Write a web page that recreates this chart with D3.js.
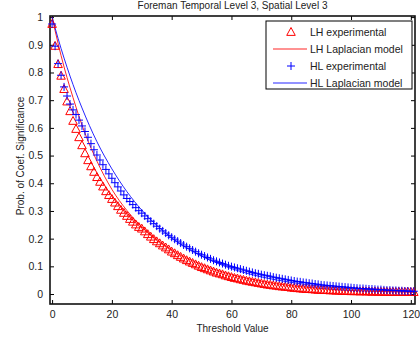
<!DOCTYPE html>
<html>
<head>
<meta charset="utf-8">
<script src="https://cdn.jsdelivr.net/npm/d3@7"></script>
<style>
  html, body { margin: 0; padding: 0; background: #fff; }
  svg { display: block; font-family: "Liberation Sans", Arial, sans-serif; }
</style>
</head>
<body>
<svg id="chart" width="420" height="343"></svg>
<script>
// Threshold values 0..121 for the experimental curves
const thresholds = d3.range(0, 122);

// LH subband, measured probability of coefficient significance
const lhExperimental = [
  0.975, 0.896, 0.830, 0.788, 0.740, 0.695, 0.660, 0.625, 0.596, 0.566,
  0.537, 0.508, 0.483, 0.461, 0.441, 0.422, 0.405, 0.388, 0.371, 0.357,
  0.343, 0.330, 0.317, 0.304, 0.293, 0.282, 0.271, 0.261, 0.251, 0.242,
  0.236, 0.226, 0.216, 0.207, 0.198, 0.190, 0.183, 0.175, 0.168, 0.161,
  0.153, 0.147, 0.140, 0.134, 0.128, 0.122, 0.117, 0.112, 0.107, 0.102,
  0.097, 0.093, 0.089, 0.085, 0.081, 0.077, 0.074, 0.071, 0.067, 0.064,
  0.061, 0.058, 0.056, 0.053, 0.051, 0.048, 0.046, 0.044, 0.042, 0.040,
  0.038, 0.036, 0.034, 0.033, 0.031, 0.030, 0.028, 0.027, 0.026, 0.025,
  0.023, 0.022, 0.021, 0.020, 0.019, 0.018, 0.018, 0.017, 0.016, 0.015,
  0.015, 0.014, 0.014, 0.013, 0.013, 0.012, 0.012, 0.011, 0.011, 0.011,
  0.010, 0.010, 0.010, 0.009, 0.010, 0.009, 0.009, 0.008, 0.009, 0.008,
  0.008, 0.008, 0.008, 0.007, 0.008, 0.007, 0.008, 0.007, 0.007, 0.008,
  0.007, 0.007
];

// HL subband, measured probability of coefficient significance
const hlExperimental = [
  0.975, 0.895, 0.832, 0.790, 0.748, 0.715, 0.686, 0.665, 0.648, 0.628,
  0.607, 0.587, 0.566, 0.543, 0.521, 0.502, 0.484, 0.467, 0.450, 0.434,
  0.418, 0.402, 0.387, 0.372, 0.358, 0.345, 0.334, 0.323, 0.312, 0.301,
  0.292, 0.282, 0.272, 0.263, 0.254, 0.245, 0.236, 0.228, 0.220, 0.212,
  0.205, 0.198, 0.191, 0.184, 0.177, 0.171, 0.165, 0.159, 0.153, 0.147,
  0.142, 0.137, 0.132, 0.127, 0.122, 0.118, 0.114, 0.110, 0.106, 0.102,
  0.099, 0.096, 0.093, 0.090, 0.087, 0.084, 0.081, 0.078, 0.075, 0.073,
  0.070, 0.068, 0.066, 0.064, 0.061, 0.059, 0.057, 0.055, 0.053, 0.051,
  0.049, 0.047, 0.045, 0.044, 0.042, 0.041, 0.039, 0.038, 0.036, 0.035,
  0.033, 0.032, 0.031, 0.030, 0.029, 0.028, 0.027, 0.026, 0.025, 0.024,
  0.023, 0.022, 0.021, 0.020, 0.020, 0.019, 0.018, 0.018, 0.017, 0.016,
  0.016, 0.015, 0.014, 0.014, 0.013, 0.013, 0.012, 0.012, 0.011, 0.011,
  0.010, 0.010
];

// Laplacian model curves, sampled at these thresholds
const modelThresholds = [0, 2, 4, 6, 8, 10, 15, 20, 25, 30, 35, 40, 50, 60, 70, 80, 90, 100, 110, 121];
const lhModel = [1.000, 0.905, 0.820, 0.745, 0.675, 0.610, 0.480, 0.378, 0.302, 0.243,
                 0.197, 0.160, 0.106, 0.070, 0.046, 0.030, 0.020, 0.013, 0.009, 0.006];
const hlModel = [1.000, 0.923, 0.852, 0.787, 0.727, 0.672, 0.550, 0.452, 0.370, 0.303,
                 0.248, 0.203, 0.137, 0.092, 0.062, 0.042, 0.028, 0.019, 0.013, 0.008];

const xTicks = [0, 20, 40, 60, 80, 100, 120];
const yTicks = [0, 0.1, 0.2, 0.3, 0.4, 0.5, 0.6, 0.7, 0.8, 0.9, 1];

const titleText = "Foreman Temporal Level 3, Spatial Level 3";
const xLabel = "Threshold Value";
const yLabel = "Prob. of Coef. Significance";
const legendLabels = ["LH experimental", "LH Laplacian model", "HL experimental", "HL Laplacian model"];

const RED = "#ff0000", BLUE = "#0000ff";

const svg = d3.select("#chart");
const plot = { left: 50, right: 415, top: 16, bottom: 304 };

const x = d3.scaleLinear().domain([-0.7, 121.4]).range([plot.left, plot.right]);
const y = d3.scaleLinear().domain([-0.036, 1.004]).range([plot.bottom, plot.top]);

// Axes with inward ticks on all four sides
const tickLen = 4;
const axisColor = "#000";
const fmtY = d => d === 0 ? "0" : d === 1 ? "1" : d3.format(".1f")(d);

const axB = svg.append("g").attr("transform", `translate(0,${plot.bottom})`)
  .call(d3.axisBottom(x).tickValues(xTicks).tickSize(-tickLen).tickPadding(7).tickFormat(d3.format("d")));
const axT = svg.append("g").attr("transform", `translate(0,${plot.top})`)
  .call(d3.axisTop(x).tickValues(xTicks).tickSize(-tickLen).tickFormat(""));
const axL = svg.append("g").attr("transform", `translate(${plot.left},0)`)
  .call(d3.axisLeft(y).tickValues(yTicks).tickSize(-tickLen).tickPadding(7).tickFormat(fmtY));
const axR = svg.append("g").attr("transform", `translate(${plot.right},0)`)
  .call(d3.axisRight(y).tickValues(yTicks).tickSize(-tickLen).tickFormat(""));

[axB, axT, axL, axR].forEach(g => {
  g.select(".domain").remove();
  g.selectAll(".tick line").attr("stroke", axisColor).attr("stroke-width", 1);
  g.selectAll(".tick text").attr("fill", "#222").style("font-size", "10.5px")
    .style("font-family", "'Liberation Sans', Arial, sans-serif");
});

// Plot frame
svg.append("rect")
  .attr("x", plot.left).attr("y", plot.top)
  .attr("width", plot.right - plot.left).attr("height", plot.bottom - plot.top)
  .attr("fill", "none").attr("stroke", "#111").attr("stroke-width", 1.6);

// Model lines
const line = d3.line().x(d => x(d[0])).y(d => y(d[1])).curve(d3.curveMonotoneX);
svg.append("path")
  .datum(modelThresholds.map((t, i) => [t, lhModel[i]]))
  .attr("d", line).attr("fill", "none").attr("stroke", RED).attr("stroke-width", 1).attr("opacity", 0.85);
svg.append("path")
  .datum(modelThresholds.map((t, i) => [t, hlModel[i]]))
  .attr("d", line).attr("fill", "none").attr("stroke", BLUE).attr("stroke-width", 1).attr("opacity", 0.85);

// Marker shapes
const tri = r => `M0,${-r}L${r * 0.95},${r * 0.75}L${-r * 0.95},${r * 0.75}Z`;
const plus = r => `M${-r},0H${r}M0,${-r}V${r}`;

svg.append("g").selectAll("path")
  .data(thresholds.map((t, i) => [t, lhExperimental[i]]))
  .join("path")
  .attr("transform", d => `translate(${x(d[0])},${y(d[1])})`)
  .attr("d", tri(4.5))
  .attr("fill", "none").attr("stroke", RED).attr("stroke-width", 1);

svg.append("g").selectAll("path")
  .data(thresholds.map((t, i) => [t, hlExperimental[i]]))
  .join("path")
  .attr("transform", d => `translate(${x(d[0])},${y(d[1])})`)
  .attr("d", plus(4))
  .attr("fill", "none").attr("stroke", BLUE).attr("stroke-width", 1);

// Title and axis labels
svg.append("text").attr("x", (plot.left + plot.right) / 2).attr("y", 9)
  .attr("text-anchor", "middle").style("font-size", "10px").attr("fill", "#222").text(titleText);
svg.append("text").attr("x", (plot.left + plot.right) / 2).attr("y", 332)
  .attr("text-anchor", "middle").style("font-size", "10px").attr("fill", "#222").text(xLabel);
svg.append("text").attr("transform", `translate(24,${(plot.top + plot.bottom) / 2 - 4}) rotate(-90)`)
  .attr("text-anchor", "middle").style("font-size", "10px").attr("fill", "#222").text(yLabel);

// Legend
const lg = svg.append("g");
const lgBox = { x: 266, y: 21, w: 146, h: 68 };
lg.append("rect").attr("x", lgBox.x).attr("y", lgBox.y).attr("width", lgBox.w).attr("height", lgBox.h)
  .attr("fill", "#fff").attr("stroke", "#000").attr("stroke-width", 1);
const rowY = [32, 49, 66, 83];
const sampleX = [273, 307], symX = 291, textX = 310;
legendLabels.forEach((label, i) => {
  const color = i < 2 ? RED : BLUE;
  const yy = rowY[i];
  if (i === 0) {
    lg.append("path").attr("transform", `translate(${symX},${yy})`).attr("d", tri(4.5))
      .attr("fill", "none").attr("stroke", color).attr("stroke-width", 1);
  } else if (i === 2) {
    lg.append("path").attr("transform", `translate(${symX},${yy})`).attr("d", plus(4))
      .attr("fill", "none").attr("stroke", color).attr("stroke-width", 1);
  } else {
    lg.append("line").attr("x1", sampleX[0]).attr("x2", sampleX[1]).attr("y1", yy).attr("y2", yy)
      .attr("stroke", color).attr("stroke-width", 1).attr("opacity", 0.85);
  }
  lg.append("text").attr("x", textX).attr("y", yy + 3.5).style("font-size", "10.5px")
    .attr("fill", "#222").text(label);
});
</script>
</body>
</html>
